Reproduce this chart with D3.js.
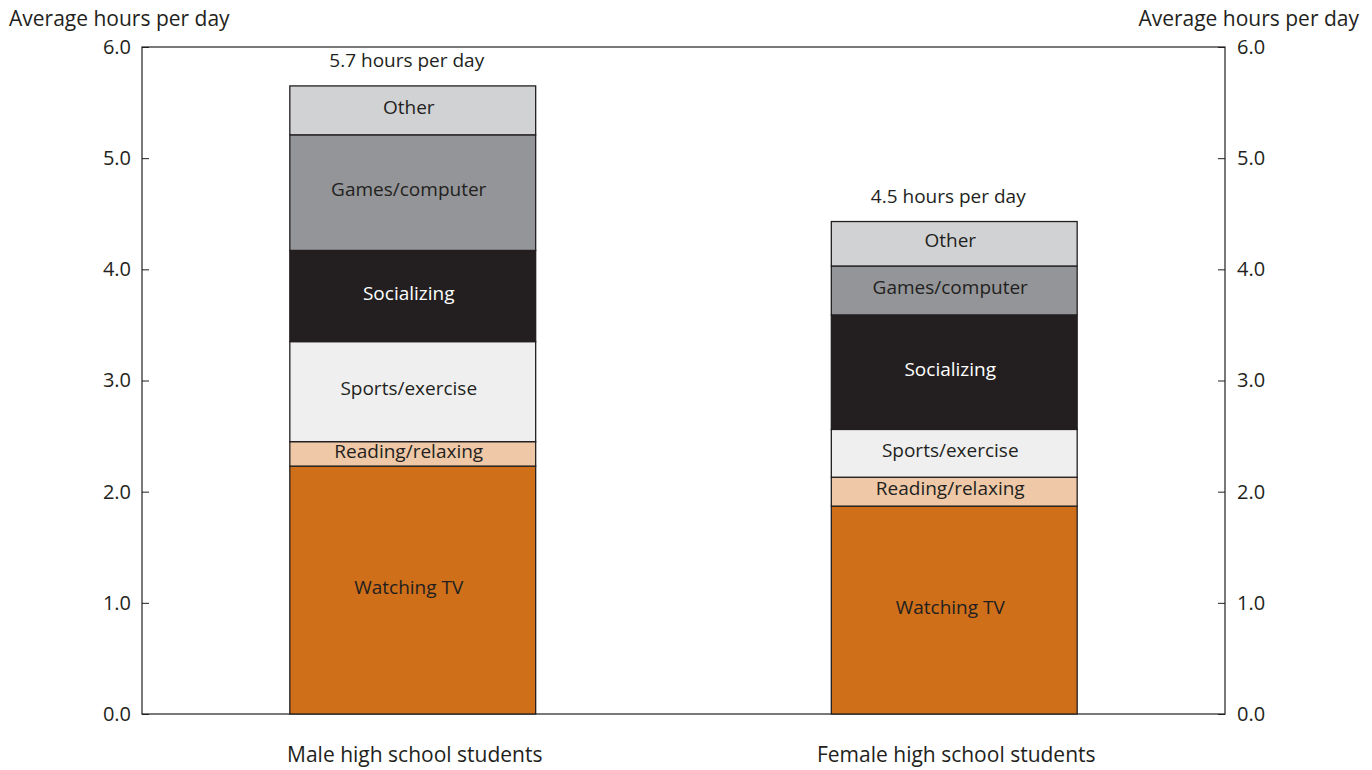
<html>
<head>
<meta charset="utf-8">
<style>
  body { margin: 0; background: #ffffff; }
  .lbl { font-family: "Open Sans", "Noto Sans", sans-serif; fill: #231f20; }
  .axis text { font-family: "Open Sans", "Noto Sans", sans-serif; font-size: 20px; fill: #231f20; }
  .axis line { stroke: #231f20; }
  .axis path { display: none; }
</style>
</head>
<body>
<script src="https://d3js.org/d3.v7.min.js"></script>
<svg id="chart" width="1372" height="770"></svg>
<script>
// data (hours per day)
var groups = ["Male high school students", "Female high school students"];
var activities = ["Watching TV", "Reading/relaxing", "Sports/exercise", "Socializing", "Games/computer", "Other"];
var maleHours = [2.23, 0.22, 0.90, 0.82, 1.04, 0.44];
var femaleHours = [1.87, 0.26, 0.43, 1.03, 0.44, 0.40];
var totalLabels = ["5.7 hours per day", "4.5 hours per day"];
var yTicks = [0, 1, 2, 3, 4, 5, 6];

var fills = ["#cf6f1a", "#efc9a7", "#efefef", "#231f20", "#939598", "#d1d2d4"];
var textFill = ["#231f20", "#231f20", "#231f20", "#ffffff", "#231f20", "#231f20"];

var svg = d3.select("#chart"),
    margin = {top: 47, right: 147, bottom: 56, left: 142},
    width = 1372 - margin.left - margin.right,
    height = 770 - margin.top - margin.bottom;

var g = svg.append("g").attr("transform", "translate(" + margin.left + "," + margin.top + ")");

var x = d3.scaleBand().domain(groups).range([0, width]).paddingInner(0.546).paddingOuter(0.273);
var y = d3.scaleLinear().domain([0, 6]).range([height, 0]);

// frame
g.append("rect")
  .attr("x", 0).attr("y", 0)
  .attr("width", width).attr("height", height)
  .attr("fill", "none").attr("stroke", "#231f20").attr("stroke-width", 1.2);

// axes with inward ticks
g.append("g").attr("class", "axis")
  .call(d3.axisLeft(y).tickValues(yTicks).tickFormat(d3.format(".1f")).tickSizeInner(-7).tickSizeOuter(0).tickPadding(11));
g.append("g").attr("class", "axis")
  .attr("transform", "translate(" + width + ",0)")
  .call(d3.axisRight(y).tickValues(yTicks).tickFormat(d3.format(".1f")).tickSizeInner(-7).tickSizeOuter(0).tickPadding(12));

// build stacks
var rows = groups.map(function(gname, i) {
  var row = {group: gname};
  var vals = i === 0 ? maleHours : femaleHours;
  activities.forEach(function(a, j) { row[a] = vals[j]; });
  return row;
});
var stack = d3.stack().keys(activities)(rows);

var layer = g.selectAll(".layer")
  .data(stack)
  .enter().append("g")
  .attr("class", "layer");

layer.selectAll("rect")
  .data(function(d) { return d.map(function(p) { return {p: p, key: d.key, idx: d.index}; }); })
  .enter().append("rect")
  .attr("x", function(d) { return x(d.p.data.group); })
  .attr("y", function(d) { return y(d.p[1]); })
  .attr("width", x.bandwidth())
  .attr("height", function(d) { return y(d.p[0]) - y(d.p[1]); })
  .attr("fill", function(d) { return fills[d.idx]; })
  .attr("stroke", "#231f20")
  .attr("stroke-width", 1.3);

layer.selectAll("text")
  .data(function(d) { return d.map(function(p) { return {p: p, key: d.key, idx: d.index}; }); })
  .enter().append("text")
  .attr("class", "lbl")
  .attr("x", function(d) { return x(d.p.data.group) + x.bandwidth() / 2 - 4; })
  .attr("y", function(d) { return (y(d.p[0]) + y(d.p[1])) / 2 - 3; })
  .attr("dy", "0.35em")
  .attr("text-anchor", "middle")
  .style("font-size", "19px")
  .style("fill", function(d) { return textFill[d.idx]; })
  .text(function(d) { return d.key; });

// totals above bars
var last = stack[stack.length - 1];
g.selectAll(".total")
  .data(last)
  .enter().append("text")
  .attr("class", "lbl total")
  .attr("x", function(d) { return x(d.data.group) + x.bandwidth() / 2 - 6; })
  .attr("y", function(d) { return y(d[1]) - 19; })
  .attr("text-anchor", "middle")
  .style("font-size", "19px")
  .text(function(d, i) { return totalLabels[i]; });

// category labels
g.selectAll(".cat")
  .data(groups)
  .enter().append("text")
  .attr("class", "lbl cat")
  .attr("x", function(d) { return x(d) + x.bandwidth() / 2 + 2; })
  .attr("y", height + 48)
  .attr("text-anchor", "middle")
  .style("font-size", "21px")
  .text(function(d) { return d; });

// axis titles
svg.append("text").attr("class", "lbl")
  .attr("x", 9).attr("y", 26)
  .style("font-size", "21px")
  .text("Average hours per day");
svg.append("text").attr("class", "lbl")
  .attr("x", 1359).attr("y", 26)
  .attr("text-anchor", "end")
  .style("font-size", "21px")
  .text("Average hours per day");
</script>
</body>
</html>
